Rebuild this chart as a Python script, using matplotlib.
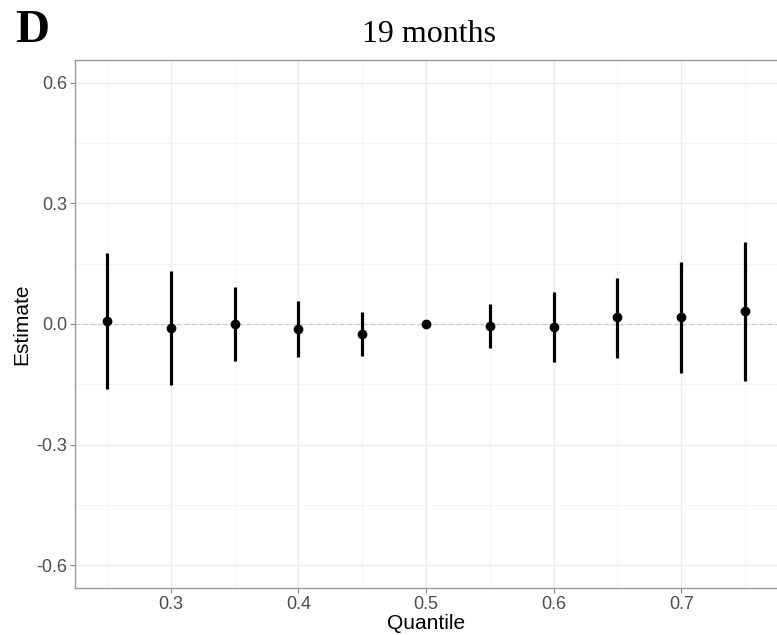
import matplotlib
matplotlib.use("Agg")
import matplotlib.pyplot as plt
from matplotlib.ticker import FixedLocator

quantiles = [0.25, 0.30, 0.35, 0.40, 0.45, 0.50, 0.55, 0.60, 0.65, 0.70, 0.75]
estimates = [0.007, -0.011, 0.000, -0.012, -0.024, 0.000, -0.004, -0.007, 0.017, 0.017, 0.032]
upper = [0.176, 0.132, 0.091, 0.058, 0.031, 0.000, 0.049, 0.080, 0.115, 0.154, 0.205]
lower = [-0.161, -0.153, -0.091, -0.083, -0.080, 0.000, -0.059, -0.095, -0.085, -0.122, -0.141]
x_ticks = [0.3, 0.4, 0.5, 0.6, 0.7]
x_tick_labels = ["0.3", "0.4", "0.5", "0.6", "0.7"]
y_ticks = [-0.6, -0.3, 0.0, 0.3, 0.6]
y_tick_labels = ["-0.6", "-0.3", "0.0", "0.3", "0.6"]
title = "19 months"
panel_tag = "D"

fig = plt.figure(figsize=(7.77, 6.35), dpi=100)
ax = fig.add_axes([75 / 777, (635 - 588) / 635, 702 / 777, (588 - 60) / 635])

ax.set_xlim(0.225, 0.775)
ax.set_ylim(-0.657, 0.657)

ax.xaxis.set_major_locator(FixedLocator(x_ticks))
ax.set_xticklabels(x_tick_labels)
ax.xaxis.set_minor_locator(FixedLocator([0.25, 0.35, 0.45, 0.55, 0.65, 0.75]))
ax.yaxis.set_major_locator(FixedLocator(y_ticks))
ax.set_yticklabels(y_tick_labels)
ax.yaxis.set_minor_locator(FixedLocator([-0.45, -0.15, 0.15, 0.45]))

ax.grid(which="major", color="#EBEBEB", lw=1.0)
ax.grid(which="minor", color="#F4F4F4", lw=0.7)
ax.set_axisbelow(True)

ax.axhline(0, color="#C8C8C8", lw=0.8, ls=(0, (4, 3)), zorder=1)

for q, lo, hi in zip(quantiles, lower, upper):
    if hi != lo:
        ax.vlines(q, lo, hi, color="black", lw=2.3, zorder=3)
ax.plot(quantiles, estimates, "o", color="black", ms=6, zorder=4)

for side in ["left", "bottom", "top"]:
    ax.spines[side].set_color("#999999")
    ax.spines[side].set_linewidth(1.0)
ax.spines["right"].set_visible(False)

ax.tick_params(which="major", length=3.5, width=0.8, color="#888888",
               labelsize=13, labelcolor="#4D4D4D", pad=2)
ax.tick_params(which="minor", length=0)
for lab in ax.get_xticklabels() + ax.get_yticklabels():
    lab.set_fontfamily("Liberation Sans")

ax.set_xlabel("Quantile", fontsize=15, family="Liberation Sans", labelpad=1)
ax.set_ylabel("Estimate", fontsize=15, family="Liberation Sans", labelpad=4)

fig.text(429 / 777, 1 - 34 / 635, title, ha="center", va="center",
         fontsize=23, family="Liberation Serif")
fig.text(15 / 777, 1 - 31 / 635, panel_tag, ha="left", va="center",
         fontsize=34, fontweight="bold", family="Liberation Serif")

fig.savefig("out.png", dpi=100)
